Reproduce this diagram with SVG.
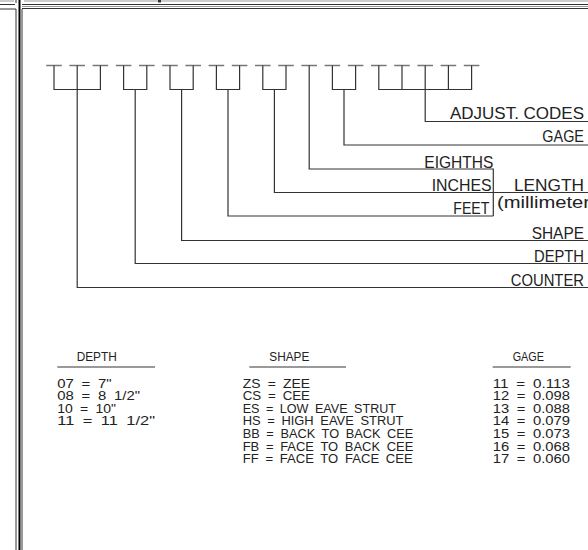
<svg xmlns="http://www.w3.org/2000/svg" width="588" height="550" viewBox="0 0 588 550">
<style>
.bd{stroke:#333;stroke-width:1;fill:none}
.bg{stroke:#999;stroke-width:1;fill:none}
.tk{stroke:#777;stroke-width:1.3;fill:none}
.cn{stroke:#333;stroke-width:1.2;fill:none}
.ul{stroke:#777;stroke-width:1.5;fill:none}
.lb{font-family:"Liberation Sans",Arial,sans-serif;font-size:17px;fill:#222}
.tb{font-family:"Liberation Sans",Arial,sans-serif;font-size:12.5px;fill:#222;word-spacing:3px}
</style>
<rect width="588" height="550" fill="#fff"/>
<g id="border">
<path class="bg" d="M0 1H14M24 1H588M22 6.5H588"/>
<path class="bd" d="M0 4.5H15M22 4.5H588M22 8.5H588M0 9H16V550M22 9V550M16 0V3"/>
<path d="M19.5 0V550" stroke="#000" stroke-width="2"/>
<rect x="158" y="0" width="3" height="2.5" fill="#333"/>
</g>
<g id="fields">
<path class="tk" d="M46.2 65.5h15.6M69.4 65.5h15.6M92.6 65.5h15.6M115.8 65.5h15.6M139 65.5h15.6M162.2 65.5h15.6M185.4 65.5h15.6M208.6 65.5h15.6M231.8 65.5h15.6M255 65.5h15.6M278.2 65.5h15.6M301.4 65.5h15.6M324.6 65.5h15.6M347.8 65.5h15.6M371 65.5h15.6M394.2 65.5h15.6M417.4 65.5h15.6M440.6 65.5h15.6M463.8 65.5h15.6"/>
</g>
<g id="connectors">
<path class="cn" d="M54 65.5V89.5H100.4V65.5M77.2 65.5V287.5H588"/>
<path class="cn" d="M123.6 65.5V89.5H146.8V65.5M135.2 89.5V263.5H588"/>
<path class="cn" d="M170 65.5V89.5H193.2V65.5M181.6 89.5V240.5H588"/>
<path class="cn" d="M216.4 65.5V89.5H239.6V65.5M228 89.5V216H493.3"/>
<path class="cn" d="M262.8 65.5V89.5H286V65.5M274.4 89.5V192.5H588"/>
<path class="cn" d="M309.2 65.5V169H493.3V216"/>
<path class="cn" d="M332.4 65.5V89.5H355.6V65.5M344 89.5V145H588"/>
<path class="cn" d="M378.8 65.5V89.5H471.6V65.5M402 65.5V89.5M448.4 65.5V89.5M425.2 65.5V121.5H588"/>
</g>
<g id="label-adjust"><text class="lb" x="450" y="118.5" textLength="134" lengthAdjust="spacingAndGlyphs">ADJUST. CODES</text></g>
<g id="label-gage"><text class="lb" x="542.3" y="141.5" textLength="41.7" lengthAdjust="spacingAndGlyphs">GAGE</text></g>
<g id="label-eighths"><text class="lb" x="424.3" y="167.5" textLength="69" lengthAdjust="spacingAndGlyphs">EIGHTHS</text></g>
<g id="label-inches"><text class="lb" x="431.7" y="190.7" textLength="60" lengthAdjust="spacingAndGlyphs">INCHES</text></g>
<g id="label-length"><text class="lb" x="514" y="190.5" textLength="70" lengthAdjust="spacingAndGlyphs">LENGTH</text>
<text class="lb" x="497" y="207.5" font-size="16" textLength="93" lengthAdjust="spacingAndGlyphs">(millimeter</text></g>
<g id="label-feet"><text class="lb" x="453.3" y="214.3" textLength="36" lengthAdjust="spacingAndGlyphs">FEET</text></g>
<g id="label-shape"><text class="lb" x="531.7" y="239" textLength="52.3" lengthAdjust="spacingAndGlyphs">SHAPE</text></g>
<g id="label-depth"><text class="lb" x="534" y="262" textLength="50" lengthAdjust="spacingAndGlyphs">DEPTH</text></g>
<g id="label-counter"><text class="lb" x="510.7" y="285.7" textLength="73.3" lengthAdjust="spacingAndGlyphs">COUNTER</text></g>
<g id="table-depth">
<text class="tb" x="76.7" y="361" textLength="40" lengthAdjust="spacingAndGlyphs">DEPTH</text>
<path class="ul" d="M57.3 367H155"/>
<text class="tb" x="57.3" y="387.5" textLength="54.3" lengthAdjust="spacingAndGlyphs">07 = 7&quot;</text>
<text class="tb" x="57.3" y="400.1" textLength="82.7" lengthAdjust="spacingAndGlyphs">08 = 8 1/2&quot;</text>
<text class="tb" x="57.3" y="412.7" textLength="58.7" lengthAdjust="spacingAndGlyphs">10 = 10&quot;</text>
<text class="tb" x="57.3" y="425.3" textLength="97.7" lengthAdjust="spacingAndGlyphs">11 = 11 1/2&quot;</text>
</g>
<g id="table-shape">
<text class="tb" x="269.3" y="361" textLength="40" lengthAdjust="spacingAndGlyphs">SHAPE</text>
<path class="ul" d="M249.3 367H346"/>
<text class="tb" x="242.7" y="387.5" textLength="67.3" lengthAdjust="spacingAndGlyphs">ZS = ZEE</text>
<text class="tb" x="242.7" y="400.1" textLength="67.3" lengthAdjust="spacingAndGlyphs">CS = CEE</text>
<text class="tb" x="242.7" y="412.7" textLength="153.3" lengthAdjust="spacingAndGlyphs">ES = LOW EAVE STRUT</text>
<text class="tb" x="242.7" y="425.3" textLength="160.7" lengthAdjust="spacingAndGlyphs">HS = HIGH EAVE STRUT</text>
<text class="tb" x="242.7" y="437.9" textLength="170.7" lengthAdjust="spacingAndGlyphs">BB = BACK TO BACK CEE</text>
<text class="tb" x="242.7" y="450.5" textLength="170.7" lengthAdjust="spacingAndGlyphs">FB = FACE TO BACK CEE</text>
<text class="tb" x="242.7" y="463.1" textLength="170" lengthAdjust="spacingAndGlyphs">FF = FACE TO FACE CEE</text>
</g>
<g id="table-gage">
<text class="tb" x="512.7" y="361" textLength="31.3" lengthAdjust="spacingAndGlyphs">GAGE</text>
<path class="ul" d="M492.7 367H570.7"/>
<text class="tb" x="492.7" y="387.5" textLength="77.3" lengthAdjust="spacingAndGlyphs">11 = 0.113</text>
<text class="tb" x="492.7" y="400.1" textLength="77.3" lengthAdjust="spacingAndGlyphs">12 = 0.098</text>
<text class="tb" x="492.7" y="412.7" textLength="77.3" lengthAdjust="spacingAndGlyphs">13 = 0.088</text>
<text class="tb" x="492.7" y="425.3" textLength="77.3" lengthAdjust="spacingAndGlyphs">14 = 0.079</text>
<text class="tb" x="492.7" y="437.9" textLength="77.3" lengthAdjust="spacingAndGlyphs">15 = 0.073</text>
<text class="tb" x="492.7" y="450.5" textLength="77.3" lengthAdjust="spacingAndGlyphs">16 = 0.068</text>
<text class="tb" x="492.7" y="463.1" textLength="77.3" lengthAdjust="spacingAndGlyphs">17 = 0.060</text>
</g>
</svg>
